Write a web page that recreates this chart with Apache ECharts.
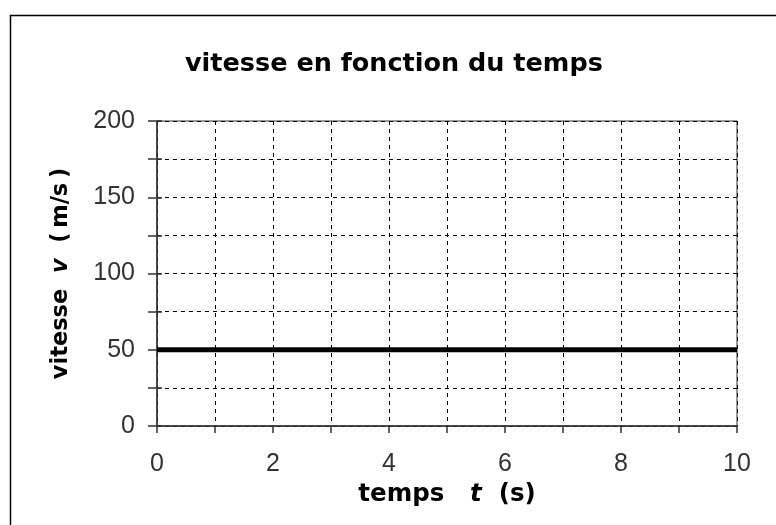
<!DOCTYPE html>
<html><head><meta charset="utf-8">
<script src="https://cdn.jsdelivr.net/npm/echarts@6/dist/echarts.min.js"></script>
<style>html,body{margin:0;padding:0;background:#fff}#c{width:776px;height:525px}</style>
</head><body><div id="c"></div>
<script>
var titleText = 'vitesse en fonction du temps';
var temps = [0, 10];
var vitesse = [50, 50];
var xTickLabels = ['0', '2', '4', '6', '8', '10'];
var yTickLabels = ['0', '50', '100', '150', '200'];

var chart = echarts.init(document.getElementById('c'));
var tickFont = '"Liberation Sans", Arial, sans-serif';
var boldFont = '"DejaVu Sans", sans-serif';
var nameRich = function (size) {
  return {
    b: {fontFamily: boldFont, fontWeight: 'bold', fontSize: size, color: '#000'},
    i: {fontFamily: boldFont, fontWeight: 'bold', fontStyle: 'italic', fontSize: size, color: '#000'},
    s: {fontFamily: boldFont, fontWeight: 'bold', fontSize: size * 0.6, color: '#000'}
  };
};
chart.setOption({
  animation: false,
  backgroundColor: '#fff',
  graphic: [{
    type: 'rect', left: 8, top: 13, shape: {width: 780, height: 530},
    style: {fill: 'none', stroke: '#000', lineWidth: 1.5}, silent: true
  }],
  title: {
    text: titleText, left: 185, top: 51, padding: 0,
    textStyle: {fontFamily: boldFont, fontWeight: 'bold', fontSize: 25.5, color: '#000'}
  },
  grid: {left: 157, right: 39, top: 121, bottom: 99, show: true, borderColor: '#333', borderWidth: 1, backgroundColor: 'transparent'},
  xAxis: {
    type: 'value', min: 0, max: 10, interval: 1,
    name: '{b|temps   }{i|t}{b|  (s)}', nameLocation: 'middle', nameGap: 47,
    nameTextStyle: {rich: nameRich(24.5)},
    axisLine: {show: true, lineStyle: {color: '#333', width: 1.5}},
    axisTick: {show: true, length: 7, lineStyle: {color: '#333', width: 1.5}},
    axisLabel: {
      fontFamily: tickFont, fontSize: 25, color: '#333', margin: 26,
      formatter: function (v) { return xTickLabels.indexOf(String(v)) >= 0 ? String(v) : ''; }
    },
    splitLine: {show: true, lineStyle: {color: '#000', type: [4, 4], width: 1}}
  },
  yAxis: [{
    type: 'value', min: 0, max: 200, interval: 25,
    name: '{b|vitesse  }{i|v}{b|  (}{s| }{b|m/s}{s| }{b|)}', nameLocation: 'middle', nameGap: 84, nameRotate: 90,
    nameTextStyle: {rich: nameRich(22.5)},
    axisLine: {show: true, lineStyle: {color: '#333', width: 1.5}},
    axisTick: {show: true, length: 9, lineStyle: {color: '#333', width: 1.5}},
    axisLabel: {
      fontFamily: tickFont, fontSize: 25, color: '#333', margin: 22,
      formatter: function (v) { return yTickLabels.indexOf(String(v)) >= 0 ? String(v) : ''; }
    },
    splitLine: {show: true, lineStyle: {color: '#000', type: [4, 4], width: 1}}
  }, {
    type: 'value', min: 0, max: 200, interval: 25, position: 'left',
    axisLine: {show: false},
    axisTick: {show: true, inside: true, length: 5, lineStyle: {color: '#333', width: 1.5}},
    axisLabel: {show: false},
    splitLine: {show: false}
  }],
  series: [{
    type: 'line', data: temps.map(function (t, i) { return [t, vitesse[i]]; }),
    showSymbol: false, symbol: 'none',
    lineStyle: {color: '#000', width: 5}
  }]
});
</script></body></html>
